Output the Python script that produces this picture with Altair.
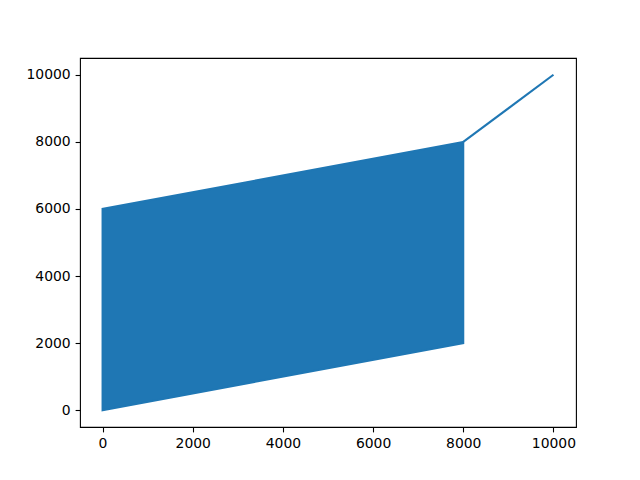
import altair as alt
import pandas as pd

# Dense zigzag region rendered as its envelope (parallelogram)
band_x = [0, 8000]
band_low = [0, 2000]
band_high = [6000, 8000]

# Final straight segment
tail_x = [8000, 10000]
tail_y = [8000, 10000]

ticks = [0, 2000, 4000, 6000, 8000, 10000]
color = "#1f77b4"

band = pd.DataFrame({"x": band_x, "lo": band_low, "hi": band_high})
tail = pd.DataFrame({"x": tail_x, "y": tail_y})

xs = alt.Scale(domain=[-500, 10500], nice=False, zero=False)
ys = alt.Scale(domain=[-500, 10500], nice=False, zero=False)

axis_common = dict(
    values=ticks, grid=False, domain=False, tickColor="black", tickSize=4.9,
    tickWidth=1.1, labelColor="black", labelFont="DejaVu Sans", labelFontSize=13.9,
    labelPadding=4.9, title=None, format="d",
)

area = alt.Chart(band).mark_area(color=color, stroke=color, strokeWidth=2, opacity=1).encode(
    x=alt.X("x:Q", scale=xs, axis=alt.Axis(**axis_common)),
    y=alt.Y("lo:Q", scale=ys, axis=alt.Axis(**axis_common)),
    y2="hi:Q",
)

line = alt.Chart(tail).mark_line(color=color, strokeWidth=2.1).encode(
    x=alt.X("x:Q", scale=xs),
    y=alt.Y("y:Q", scale=ys),
)

chart = alt.layer(area, line).properties(
    width=496, height=369,
    autosize=alt.AutoSizeParams(type="none"),
    padding={"left": 72, "top": 50, "right": 56, "bottom": 45},
    background="white",
).configure_view(stroke="black", strokeWidth=1.1)

chart.save("out.html", embed_options={"renderer": "svg", "actions": False})
